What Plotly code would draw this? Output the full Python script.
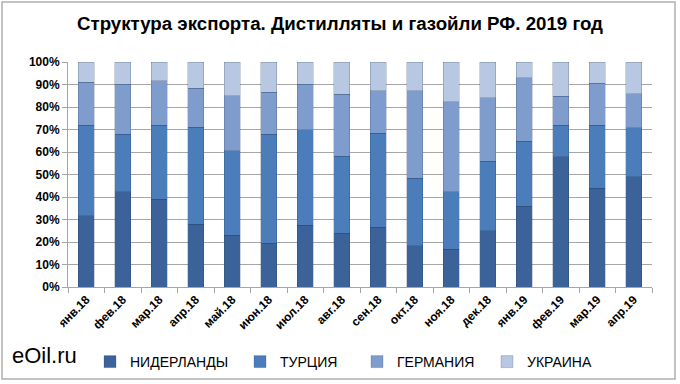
import plotly.graph_objects as go

months = ["янв.18", "фев.18", "мар.18", "апр.18", "май.18", "июн.18", "июл.18", "авг.18",
          "сен.18", "окт.18", "ноя.18", "дек.18", "янв.19", "фев.19", "мар.19", "апр.19"]

# shares, % of total
netherlands = [31.6, 42.4, 39.1, 27.8, 22.9, 19.5, 27.4, 23.8, 26.6, 18.3, 16.8, 25.1, 35.8, 57.9, 43.9, 48.9]
turkey      = [40.3, 25.6, 32.8, 43.2, 37.6, 48.5, 42.6, 34.4, 41.8, 30.1, 25.6, 30.8, 28.9, 14.0, 28.0, 21.8]
germany     = [19.1, 22.2, 19.8, 17.4, 24.5, 18.5, 20.2, 27.5, 18.8, 38.8, 39.9, 28.3, 28.2, 12.8, 18.6, 15.3]
ukraine     = [9.0, 9.8, 8.3, 11.6, 15.0, 13.5, 9.8, 14.3, 12.8, 12.8, 17.7, 15.8, 7.1, 15.3, 9.5, 14.0]

series_names = ["НИДЕРЛАНДЫ", "ТУРЦИЯ", "ГЕРМАНИЯ", "УКРАИНА"]
series_values = [netherlands, turkey, germany, ukraine]
series_colors = ["#3b6399", "#4a7dba", "#7f9dcc", "#b8c8e2"]
legend_ids = ["legend", "legend2", "legend3", "legend4"]
legend_x_px = [90, 240, 357, 487]

y_ticks = [0, 10, 20, 30, 40, 50, 60, 70, 80, 90, 100]
y_labels = [f"{v}%" for v in y_ticks]

fig = go.Figure()
for name, vals, col, lg in zip(series_names, series_values, series_colors, legend_ids):
    fig.add_trace(go.Bar(
        x=months, y=vals, name=name, legend=lg,
        marker=dict(color=col, line=dict(color="rgba(30,50,80,0.35)", width=0.6)),
    ))

legend_common = dict(
    orientation="h", xanchor="left", xref="container",
    y=(384 - 362) / 384, yanchor="middle", yref="container",
    font=dict(size=14, family="Liberation Sans, Arial", color="black"),
    itemwidth=30, bgcolor="rgba(0,0,0,0)",
)
legend_layout = {}
for lg, xp in zip(legend_ids, legend_x_px):
    legend_layout[lg] = dict(legend_common, x=xp / 680)

fig.update_layout(
    barmode="stack",
    bargap=0.56,
    width=680, height=384,
    margin=dict(l=68, r=28, t=62, b=97),
    paper_bgcolor="white",
    plot_bgcolor="white",
    font=dict(family="Liberation Sans, Arial, sans-serif", color="black"),
    title=dict(
        text="<b>Структура экспорта. Дистилляты и газойли РФ. 2019 год</b>",
        font=dict(family="Liberation Sans, Arial", size=18.7, color="black"),
        x=340 / 680, xanchor="center", xref="container", y=1 - 23 / 384, yanchor="middle",
    ),
    xaxis=dict(
        type="category",
        tickangle=-45,
        tickfont=dict(size=12, family="Liberation Sans, Arial", color="black", weight="bold"),
        showline=True, linecolor="#a6a6a6", linewidth=1,
        ticks="outside", tickson="boundaries", ticklen=5, tickcolor="#a6a6a6",
        showgrid=False, automargin=False,
    ),
    yaxis=dict(
        range=[0, 100],
        tickvals=y_ticks, ticktext=y_labels,
        tickfont=dict(size=12, family="Liberation Sans, Arial", color="black", weight="bold"),
        showgrid=True, gridcolor="#a6a6a6", gridwidth=1,
        showline=True, linecolor="#a6a6a6", linewidth=1,
        ticks="outside", ticklen=5, tickcolor="#a6a6a6",
        zeroline=False, automargin=False,
    ),
    showlegend=True,
    **legend_layout,
)

fig.add_annotation(
    text="eOil.ru", xref="paper", yref="paper",
    x=-58 / 584, y=-(355 - 287) / 225, xanchor="left", yanchor="middle",
    showarrow=False, font=dict(size=22, family="Liberation Sans, Arial", color="black"),
)

fig.add_shape(type="rect", xref="paper", yref="paper",
              x0=-66 / 584, x1=(675 - 68) / 584,
              y0=-(379 - 287) / 225, y1=(287 - 2) / 225,
              line=dict(color="#b0b0b0", width=1.5), fillcolor="rgba(0,0,0,0)", layer="below")

fig.write_html("out.html", config={"displayModeBar": False},
               post_script="document.body.style.margin='0';")
